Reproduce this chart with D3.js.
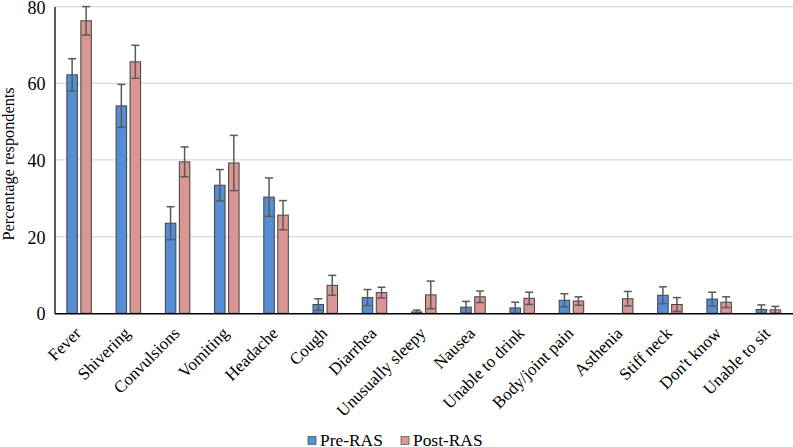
<!DOCTYPE html>
<html><head><meta charset="utf-8">
<script src="https://cdn.jsdelivr.net/npm/d3@7"></script>
</head><body style="margin:0;background:#fff"><svg id="c" width="793" height="447" style="display:block"></svg>
<script>
const categories = ["Fever","Shivering","Convulsions","Vomiting","Headache","Cough","Diarrhea","Unusually sleepy","Nausea","Unable to drink","Body/joint pain","Asthenia","Stiff neck","Don't know","Unable to sit"];
const preValues  = [62.2,54.1,23.5,33.4,30.3,2.3,4.1,0.35,1.6,1.4,3.4,0,4.7,3.7,1.0];
const preErrors  = [4.2,5.6,4.3,4.1,5.0,1.5,2.1,0.5,1.5,1.5,1.7,0,2.2,1.8,1.2];
const postValues = [76.3,65.6,39.5,39.2,25.6,7.3,5.4,4.8,4.3,3.9,3.2,3.8,2.3,2.9,0.9];
const postErrors = [3.7,4.3,3.9,7.2,3.8,2.6,1.4,3.6,1.5,1.6,1.1,1.9,1.8,1.4,0.9];
const seriesNames = ["Pre-RAS","Post-RAS"];
const yTicks = [0,20,40,60,80];

const colors = ["#558ED5","#D99694"];
const svg = d3.select("#c");
const mLeft = 54.5, mRight = 793, mTop = 6.6, mBottom = 313.3;
const x0 = d3.scaleBand().domain(categories).range([mLeft, mRight]);
const x1 = d3.scaleBand().domain(seriesNames).range([0, 24.5]).paddingInner(0.25);
const y = d3.scaleLinear().domain([0,80]).range([mBottom, mTop]);

// gridlines
svg.append("g").selectAll("line").data(yTicks.filter(d=>d>0)).join("line")
  .attr("x1", mLeft).attr("x2", mRight).attr("y1", d=>y(d)).attr("y2", d=>y(d))
  .attr("stroke","#d9d9d9").attr("stroke-width",1.3);

const series = [
  {name: seriesNames[0], values: preValues, errors: preErrors, color: colors[0]},
  {name: seriesNames[1], values: postValues, errors: postErrors, color: colors[1]}
];
const bw = x1.bandwidth();
series.forEach(s => {
  const g = svg.append("g");
  const data = categories.map((c,i)=>({c, v:s.values[i], e:s.errors[i]}));
  g.selectAll("rect").data(data.filter(d=>d.v>0)).join("rect")
    .attr("x", d=>x0(d.c)+x0.bandwidth()/2-12.25+x1(s.name))
    .attr("width", bw)
    .attr("y", d=>y(d.v)).attr("height", d=>y(0)-y(d.v))
    .attr("fill", s.color).attr("stroke","#404040").attr("stroke-width",1);
  const eg = g.selectAll("g.err").data(data.filter(d=>d.e>0)).join("g")
    .attr("transform", d=>`translate(${x0(d.c)+x0.bandwidth()/2-12.25+x1(s.name)+bw/2},0)`);
  eg.append("line").attr("x1",0).attr("x2",0)
    .attr("y1",d=>y(d.v+d.e)).attr("y2",d=>y(Math.max(0,d.v-d.e)))
    .attr("stroke","#595959").attr("stroke-width",1.5);
  eg.append("line").attr("x1",-4).attr("x2",4)
    .attr("y1",d=>y(d.v+d.e)).attr("y2",d=>y(d.v+d.e))
    .attr("stroke","#595959").attr("stroke-width",1.5);
  eg.append("line").attr("x1",-4).attr("x2",4)
    .attr("y1",d=>y(Math.max(0,d.v-d.e))).attr("y2",d=>y(Math.max(0,d.v-d.e)))
    .attr("stroke","#595959").attr("stroke-width",1.5);
});

// axes
const ya = svg.append("g").attr("transform",`translate(${mLeft},0)`)
  .call(d3.axisLeft(y).tickValues(yTicks).tickSize(0).tickPadding(9));
ya.select(".domain").attr("stroke","#000").attr("stroke-width",1.3);
ya.selectAll("text").attr("font-size",18).attr("fill","#000").attr("dy","0.36em");

const xa = svg.append("g").attr("transform",`translate(0,${mBottom})`)
  .call(d3.axisBottom(x0).tickSize(0).tickSizeOuter(0));
xa.select(".domain").attr("stroke","#000").attr("stroke-width",1.5);
xa.selectAll("text").attr("font-size",17).attr("fill","#000")
  .attr("text-anchor","end").attr("dy",null).attr("y",0)
  .attr("transform","translate(3,21) rotate(-45)");

// y title
svg.append("text").attr("transform",`translate(14,${(mBottom+mTop)/2+4}) rotate(-90)`)
  .attr("text-anchor","middle").attr("font-size",16.3).text("Percentage respondents");

// legend
const lg = svg.append("g");
const lx = [308, 401];
series.forEach((s,i)=>{
  lg.append("rect").attr("x",lx[i]).attr("y",436.5).attr("width",8).attr("height",8)
    .attr("fill",s.color).attr("stroke","#595959").attr("stroke-width",0.8);
  lg.append("text").attr("x",lx[i]+12).attr("y",445.5).attr("font-size",17.4).text(s.name);
});

svg.selectAll("text").style("font-family",'"Liberation Serif"');
</script></body></html>
